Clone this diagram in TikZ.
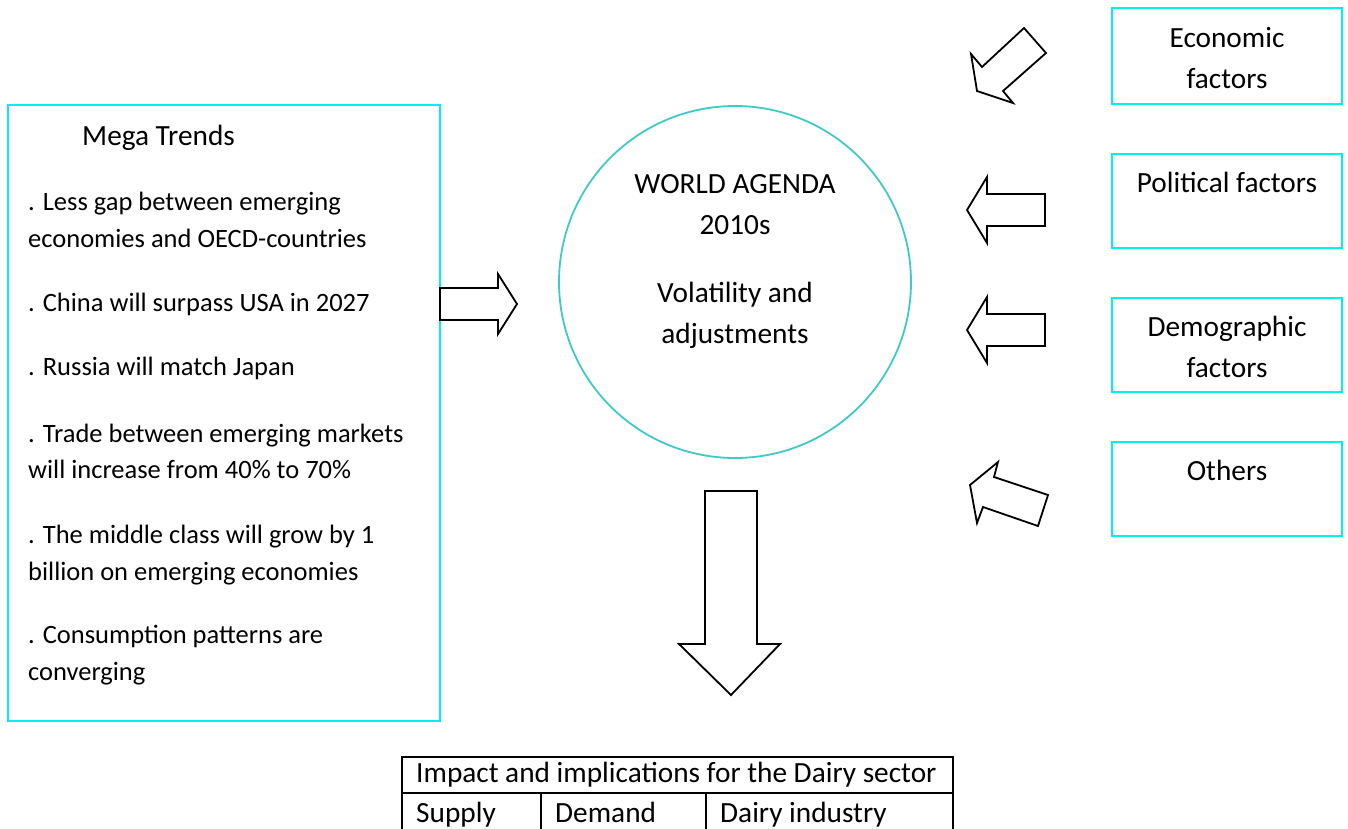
\documentclass[tikz,border=0pt]{standalone}
\usepackage{fontspec}
\setmainfont{Carlito}
\definecolor{boxcyan}{RGB}{0,240,240}
\definecolor{ringcyan}{RGB}{64,201,201}
\begin{document}
\begin{tikzpicture}[x=1pt,y=-1pt,
  framebox/.style={draw=boxcyan, line width=2.5pt, rectangle, inner sep=0pt},
  ring/.style={draw=ringcyan, line width=1.8pt, circle, inner sep=0pt, minimum size=352pt},
  cell/.style={draw=black, line width=1.4pt, rectangle, inner sep=0pt},
  blockarrow/.style={draw=black, line width=1.8pt, fill=white, line join=miter},
  bigtxt/.style={inner sep=0pt, font=\fontsize{29.3}{35}\selectfont},
  listtxt/.style={inner sep=0pt, anchor=base west, font=\fontsize{26.5}{32}\selectfont}]
\clip (0,0) rectangle (1348,828);
\fill[white] (0,0) rectangle (1348,828);

% Mega trends panel
\node[framebox, minimum width=432pt, minimum height=616pt] (mega) at (224,413) {};
\node[bigtxt, anchor=base west] (megatitle) at (82,145) {Mega Trends};
\foreach \yy/\tt [count=\k] in {
  210/{. Less gap between emerging},
  247/{economies and OECD-countries},
  311/{. China will surpass USA in 2027},
  375/{. Russia will match Japan},
  442/{. Trade between emerging markets},
  478/{will increase from 40\% to 70\%},
  543/{. The middle class will grow by 1},
  580/{billion on emerging economies},
  643/{. Consumption patterns are},
  680/{converging}}
  \node[listtxt] (megaline\k) at (28,\yy) {\tt};

% Central circle
\node[ring] (agenda) at (735,282) {};
\node[bigtxt, anchor=base] (ag1) at (735,193) {WORLD AGENDA};
\node[bigtxt, anchor=base] (ag2) at (735,234) {2010s};
\node[bigtxt, anchor=base] (ag3) at (735,302) {Volatility and};
\node[bigtxt, anchor=base] (ag4) at (735,343) {adjustments};

% Factor boxes
\node[framebox, minimum width=230pt, minimum height=96pt] (econ) at (1227,56) {};
\node[bigtxt, anchor=base] (econ1) at (1227,47) {Economic};
\node[bigtxt, anchor=base] (econ2) at (1227,88) {factors};
\node[framebox, minimum width=230pt, minimum height=94pt] (pol) at (1227,201) {};
\node[bigtxt, anchor=base] (pol1) at (1227,192) {Political factors};
\node[framebox, minimum width=230pt, minimum height=94pt] (demo) at (1227,345) {};
\node[bigtxt, anchor=base] (demo1) at (1227,336) {Demographic};
\node[bigtxt, anchor=base] (demo2) at (1227,377) {factors};
\node[framebox, minimum width=230pt, minimum height=94pt] (oth) at (1227,489) {};
\node[bigtxt, anchor=base] (oth1) at (1227,480) {Others};

% Block arrows
\draw[blockarrow] (440,288) -- (498,288) -- (498,274) -- (517,304) -- (498,334) -- (498,320) -- (440,320) -- cycle;
\draw[blockarrow] (705,491) -- (757,491) -- (757,644) -- (780,644) -- (731,695) -- (679,644) -- (705,644) -- cycle;
\draw[blockarrow] (971,54) -- (982,67) -- (1024,28) -- (1046,53) -- (1003,91) -- (1013,103) -- (977,91) -- cycle;
\draw[blockarrow] (1045,194) -- (987,194) -- (987,177) -- (967,210) -- (987,243) -- (987,226) -- (1045,226) -- cycle;
\draw[blockarrow] (1045,314) -- (987,314) -- (987,297) -- (967,330) -- (987,363) -- (987,346) -- (1045,346) -- cycle;
\draw[blockarrow] (998,462) -- (994,477) -- (1048,495) -- (1038,526) -- (983,507) -- (977,523) -- (970,485) -- cycle;

% Impact table
\node[cell, minimum width=551pt, minimum height=36pt] (impact) at (677.5,775) {};
\node[cell, minimum width=139pt, minimum height=47pt] (supply) at (471.5,816.5) {};
\node[cell, minimum width=165pt, minimum height=47pt] (demand) at (623.5,816.5) {};
\node[cell, minimum width=247pt, minimum height=47pt] (dairy) at (829.5,816.5) {};
\node[bigtxt, anchor=base west] (impacttxt) at (416,782) {Impact and implications for the Dairy sector};
\node[bigtxt, anchor=base west] (supplytxt) at (416,822) {Supply};
\node[bigtxt, anchor=base west] (demandtxt) at (555,822) {Demand};
\node[bigtxt, anchor=base west] (dairytxt) at (720,822) {Dairy industry};
\end{tikzpicture}
\end{document}
